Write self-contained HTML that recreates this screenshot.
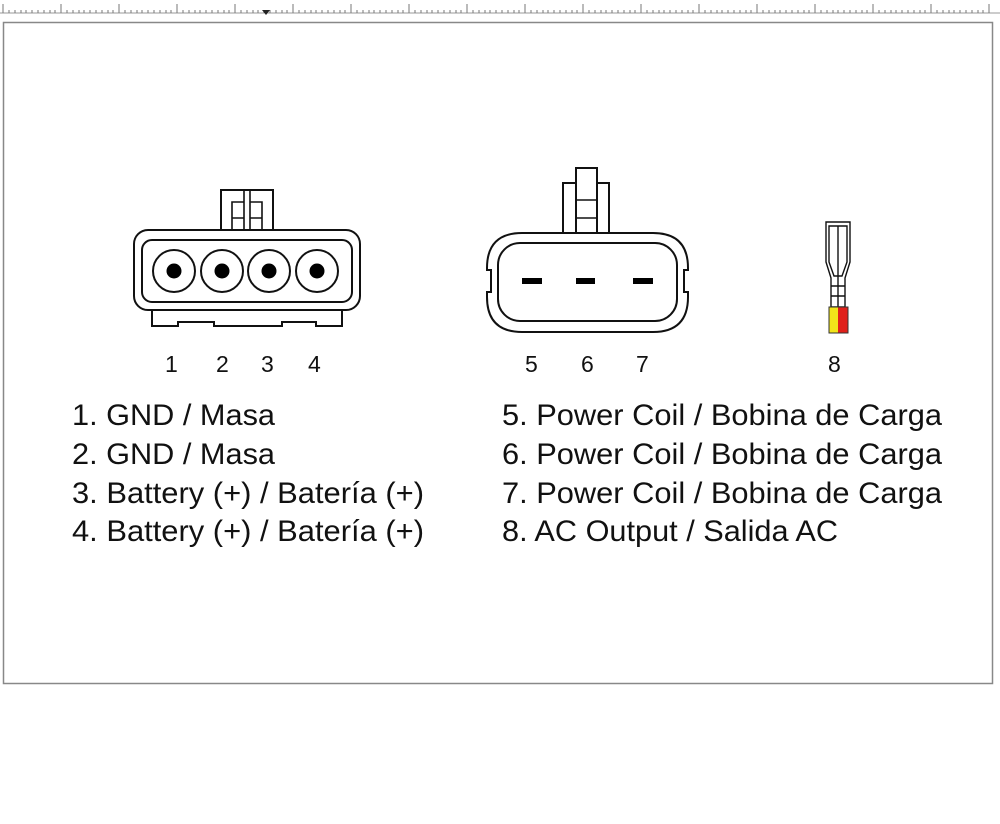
<!DOCTYPE html>
<html><head><meta charset="utf-8"><style>
html,body{margin:0;padding:0;background:#fff;}
svg{display:block;}
text{font-family:"Liberation Sans",Arial,sans-serif;fill:#111;}
</style></head><body>
<svg width="1000" height="824" viewBox="0 0 1000 824" xmlns="http://www.w3.org/2000/svg">
<rect width="1000" height="824" fill="#fff"/>
<line x1="0" y1="13" x2="1000" y2="13" stroke="#999" stroke-width="1"/>
<rect x="3.5" y="22.5" width="989" height="661" fill="none" stroke="#888" stroke-width="1.5"/>
<!-- connector 1 -->
<g fill="none" stroke="#111" stroke-width="2">
<rect x="221" y="190" width="52" height="40" fill="#fff"/>
<path d="M232 230 V202 H244 V230 M250 230 V202 H262 V230 M244 190 V230 M250 190 V230 M232 218 H244 M250 218 H262" stroke-width="1.6"/>
<path d="M152 310 V326 H178 V322 H214 V326 H282 V322 H316 V326 H342 V310" fill="#fff"/>
<rect x="134" y="230" width="226" height="80" rx="14" fill="#fff"/>
<rect x="142" y="240" width="210" height="62" rx="10"/>
<circle cx="174" cy="271" r="21"/><circle cx="222" cy="271" r="21"/><circle cx="269" cy="271" r="21"/><circle cx="317" cy="271" r="21"/>
</g>
<g fill="#000"><circle cx="174" cy="271" r="7.5"/><circle cx="222" cy="271" r="7.5"/><circle cx="269" cy="271" r="7.5"/><circle cx="317" cy="271" r="7.5"/></g>
<!-- connector 2 -->
<g fill="none" stroke="#111" stroke-width="2">
<rect x="563" y="183" width="46" height="50" fill="#fff"/>
<rect x="576" y="168" width="21" height="65" fill="#fff"/>
<path d="M576 200 H597 M576 218 H597" stroke-width="1.6"/>
<path d="M522 233 H653 Q688 233 688 268 V270 H684 V292 H688 V297 Q688 332 653 332 H522 Q487 332 487 297 V292 H491 V270 H487 V268 Q487 233 522 233 Z" fill="#fff"/>
<rect x="498" y="243" width="179" height="78" rx="22"/>
</g>
<g fill="#000"><rect x="522" y="278" width="20" height="6"/><rect x="576" y="278" width="19" height="6"/><rect x="633" y="278" width="20" height="6"/></g>
<!-- terminal 8 -->
<g fill="none" stroke="#111" stroke-width="1.4">
<path d="M826 222 H850 V262 L845 278 V307 H831 V278 L826 262 Z" fill="#fff"/>
<path d="M829 226 H847 V262 L842 276 H834 L829 262 Z"/>
<path d="M838 226 V276 M831 286 H845 M831 296 H845 M838 276 V307"/>
</g>
<rect x="829" y="307" width="9" height="26" fill="#f2e41a"/>
<rect x="838" y="307" width="10" height="26" fill="#e0201a"/>
<rect x="829" y="307" width="19" height="26" fill="none" stroke="#333" stroke-width="1"/>
<!-- pin numbers -->
<g font-size="23">
<text x="165" y="372">1</text><text x="216" y="372">2</text><text x="261" y="372">3</text><text x="308" y="372">4</text>
<text x="525" y="372">5</text><text x="581" y="372">6</text><text x="636" y="372">7</text><text x="828" y="372">8</text>
</g>
<g font-size="30">
<text x="72" y="425" textLength="203" lengthAdjust="spacingAndGlyphs">1. GND / Masa</text>
<text x="72" y="464" textLength="203" lengthAdjust="spacingAndGlyphs">2. GND / Masa</text>
<text x="72" y="503" textLength="352" lengthAdjust="spacingAndGlyphs">3. Battery (+) / Batería (+)</text>
<text x="72" y="541" textLength="352" lengthAdjust="spacingAndGlyphs">4. Battery (+) / Batería (+)</text>
<text x="502" y="425" textLength="440" lengthAdjust="spacingAndGlyphs">5. Power Coil / Bobina de Carga</text>
<text x="502" y="464" textLength="440" lengthAdjust="spacingAndGlyphs">6. Power Coil / Bobina de Carga</text>
<text x="502" y="503" textLength="440" lengthAdjust="spacingAndGlyphs">7. Power Coil / Bobina de Carga</text>
<text x="502" y="541" textLength="336" lengthAdjust="spacingAndGlyphs">8. AC Output / Salida AC</text>
</g>
<g stroke="#777" stroke-width="1">
<path d="M3 4V13M61 4V13M119 4V13M177 4V13M235 4V13M293 4V13M351 4V13M409 4V13M467 4V13M525 4V13M583 4V13M641 4V13M699 4V13M757 4V13M815 4V13M873 4V13M931 4V13M989 4V13"/>
<path d="M9 10V13M15 10V13M21 10V13M26 10V13M32 10V13M38 10V13M44 10V13M50 10V13M55 10V13M67 10V13M73 10V13M79 10V13M84 10V13M90 10V13M96 10V13M102 10V13M108 10V13M113 10V13M125 10V13M131 10V13M137 10V13M142 10V13M148 10V13M154 10V13M160 10V13M166 10V13M171 10V13M183 10V13M189 10V13M195 10V13M200 10V13M206 10V13M212 10V13M218 10V13M224 10V13M229 10V13M241 10V13M247 10V13M253 10V13M258 10V13M264 10V13M270 10V13M276 10V13M282 10V13M287 10V13M299 10V13M305 10V13M311 10V13M316 10V13M322 10V13M328 10V13M334 10V13M340 10V13M345 10V13M357 10V13M363 10V13M369 10V13M374 10V13M380 10V13M386 10V13M392 10V13M398 10V13M403 10V13M415 10V13M421 10V13M427 10V13M432 10V13M438 10V13M444 10V13M450 10V13M456 10V13M461 10V13M473 10V13M479 10V13M485 10V13M490 10V13M496 10V13M502 10V13M508 10V13M514 10V13M519 10V13M531 10V13M537 10V13M543 10V13M548 10V13M554 10V13M560 10V13M566 10V13M572 10V13M577 10V13M589 10V13M595 10V13M601 10V13M606 10V13M612 10V13M618 10V13M624 10V13M630 10V13M635 10V13M647 10V13M653 10V13M659 10V13M664 10V13M670 10V13M676 10V13M682 10V13M688 10V13M693 10V13M705 10V13M711 10V13M717 10V13M722 10V13M728 10V13M734 10V13M740 10V13M746 10V13M751 10V13M763 10V13M769 10V13M775 10V13M780 10V13M786 10V13M792 10V13M798 10V13M804 10V13M809 10V13M821 10V13M827 10V13M833 10V13M838 10V13M844 10V13M850 10V13M856 10V13M862 10V13M867 10V13M879 10V13M885 10V13M891 10V13M896 10V13M902 10V13M908 10V13M914 10V13M920 10V13M925 10V13M937 10V13M943 10V13M949 10V13M954 10V13M960 10V13M966 10V13M972 10V13M978 10V13M983 10V13"/>
</g>
<path d="M262 10 L270 10 L266 15 Z" fill="#222"/>
</svg>
</body></html>
